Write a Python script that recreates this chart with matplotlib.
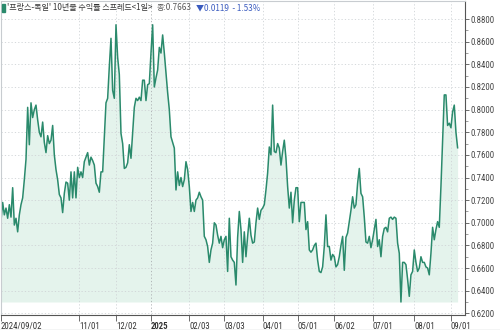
import matplotlib
matplotlib.use("Agg")
import matplotlib.pyplot as plt
from matplotlib import font_manager
from matplotlib.patches import Rectangle
from matplotlib.lines import Line2D

# daily spread values (trading days, 2024/09/02 -> 2025/09/0x)
spread = [
    0.702, 0.718, 0.707, 0.713, 0.704, 0.716, 0.705, 0.731, 0.698, 0.704,
    0.692, 0.707, 0.716, 0.722, 0.738, 0.756, 0.802, 0.769, 0.806, 0.793,
    0.800, 0.804, 0.791, 0.780, 0.776, 0.789, 0.771, 0.762, 0.777, 0.770,
    0.773, 0.786, 0.760, 0.747, 0.738, 0.725, 0.722, 0.709, 0.726, 0.736,
    0.735, 0.720, 0.745, 0.722, 0.745, 0.722, 0.749, 0.740, 0.745, 0.740,
    0.754, 0.758, 0.762, 0.751,
    0.758, 0.755, 0.751, 0.735, 0.732, 0.727, 0.745, 0.745, 0.776, 0.806,
    0.810, 0.838, 0.863, 0.817, 0.810, 0.875, 0.846, 0.831, 0.779, 0.770,
    0.748, 0.749, 0.753, 0.769, 0.757, 0.780, 0.802, 0.810, 0.808, 0.811,
    0.808, 0.826, 0.826, 0.808, 0.822, 0.823, 0.850, 0.875, 0.820, 0.828,
    0.835, 0.855, 0.850, 0.866, 0.850, 0.832, 0.815, 0.800, 0.776, 0.771,
    0.766, 0.729, 0.745, 0.733,
    0.740, 0.732, 0.738, 0.754, 0.747, 0.732, 0.710, 0.718, 0.710, 0.720,
    0.722, 0.727, 0.723, 0.720, 0.688, 0.685, 0.679, 0.665, 0.676, 0.682,
    0.700, 0.698, 0.689, 0.682, 0.688, 0.678, 0.685, 0.688, 0.657, 0.704,
    0.670, 0.667, 0.665, 0.645, 0.687, 0.710, 0.694, 0.665, 0.692, 0.670,
    0.688, 0.704, 0.689, 0.682, 0.683, 0.700, 0.713, 0.703, 0.711, 0.713,
    0.716, 0.729, 0.744, 0.767, 0.760, 0.804, 0.763,
    0.762, 0.770, 0.766, 0.751, 0.763, 0.773, 0.757, 0.732, 0.713, 0.727,
    0.700, 0.720, 0.731, 0.731, 0.701, 0.718, 0.718, 0.718, 0.694, 0.701,
    0.676, 0.674, 0.676, 0.680, 0.682, 0.667, 0.657, 0.656, 0.661, 0.679,
    0.707, 0.679, 0.679, 0.667, 0.672, 0.670, 0.661, 0.663, 0.670, 0.680,
    0.688, 0.658, 0.687, 0.691, 0.701, 0.711, 0.723, 0.713, 0.716, 0.735,
    0.748, 0.726, 0.723, 0.705, 0.683, 0.682, 0.688,
    0.678, 0.685, 0.694, 0.703, 0.679, 0.685, 0.670, 0.688, 0.695, 0.696,
    0.692, 0.704, 0.705, 0.703, 0.705, 0.704, 0.682, 0.673, 0.630, 0.665,
    0.665, 0.663, 0.650, 0.635, 0.654, 0.657, 0.676, 0.665, 0.657, 0.660,
    0.670, 0.665, 0.665, 0.661, 0.660, 0.654, 0.673, 0.696, 0.685, 0.694,
    0.701, 0.696, 0.732, 0.773, 0.813, 0.813, 0.786, 0.788, 0.784, 0.798,
    0.804, 0.780, 0.7663,
]

# date labels and the trading-day index they sit on
date_labels = ["2024/09/02", "11/01", "12/02", "2025", "02/03", "03/03",
               "04/01", "05/01", "06/02", "07/01", "08/01", "09/01"]
date_index = [0, 47, 69, 90, 113, 134, 157, 178, 200, 223, 248, 270]

y_ticks = [0.62 + 0.02 * k for k in range(14)]

title_main = "'프랑스-독일' 10년물 수익률 스프레드<1일>"
title_close = "종:0.7663"
title_change = "▼0.0119  - 1.53%"


def pick(*names):
    have = {f.name for f in font_manager.fontManager.ttflist}
    for n in names:
        if n in have:
            return n
    return "DejaVu Sans"


num_font = pick("Liberation Sans Narrow", "Roboto Condensed", "DejaVu Sans")
kr_font = ["Noto Sans CJK KR", "DejaVu Sans"]

line_col = "#2a8a6c"
fill_col = "#e4f3ec"
grid_col = "#cfd3d6"

fig = plt.figure(figsize=(5, 3.3), dpi=100)
ax = fig.add_axes([0.002, 15 / 330, 0.928, 314 / 330])

x = list(range(len(spread)))
base = min(spread)
ax.fill_between(x, spread, base, color=fill_col, lw=0)
ax.plot(x, spread, color=line_col, lw=1.1)

ax.set_xlim(0, 465 / 1.6667 * 0.998)
ax.set_ylim(0.6185, 0.896)

ax.yaxis.tick_right()
ax.set_yticks(y_ticks)
ax.set_yticklabels(["%.4f" % v for v in y_ticks], fontsize=6.3,
                   family=num_font, color="#444444")
ax.set_yticks([0.63 + 0.02 * k for k in range(13)], minor=True)
ax.tick_params(axis="y", which="major", length=3, width=0.6, pad=1,
               colors="#555555")
ax.tick_params(axis="y", which="minor", length=2, width=0.5, colors="#777777")
for lab in ax.get_yticklabels():
    lab.set_color("#444444")

ax.set_xticks(date_index)
ax.set_xticklabels(date_labels, fontsize=6.3, family=num_font,
                   color="#333333", ha="left")
ax.tick_params(axis="x", length=4, width=0.6, pad=1, colors="#555555")
for lab in ax.get_xticklabels():
    lab.set_color("#333333")
    if lab.get_text() == "2025":
        lab.set_fontweight("bold")

ax.grid(True, which="major", color=grid_col, lw=0.6, ls=(0, (1.5, 2.5)))
ax.get_xgridlines()[3].set_color("#a9adb0")

for side in ["left", "top"]:
    ax.spines[side].set_color("#c8ccd0")
    ax.spines[side].set_linewidth(0.8)
ax.spines["right"].set_color("#555555")
ax.spines["right"].set_linewidth(0.8)
ax.spines["bottom"].set_color("#555555")
ax.spines["bottom"].set_linewidth(0.8)

# title line, pieces chained one after another
fig.patches.append(Rectangle((2 / 500, 1 - 12 / 330), 2.5 / 500, 8 / 330,
                             transform=fig.transFigure, color=line_col))
ty = 1 - 7.5 / 330
t1 = fig.text(7 / 500, ty, title_main, fontsize=5.8, family=kr_font,
              color="#333333", va="center")
t2 = fig.text(0, 0, title_close, fontsize=5.8, family=kr_font,
              color="#555555", va="center")
t3 = fig.text(0, 0, title_change, fontsize=5.8, family=kr_font,
              color="#3a5bbf", va="center")
t2.remove()
t3.remove()
a2 = ax.annotate(title_close, xy=(1, 0.5), xycoords=t1, xytext=(3, 0),
                 textcoords="offset points", va="center", fontsize=5.8,
                 family=kr_font, color="#555555", annotation_clip=False)
a3 = ax.annotate(title_change, xy=(1, 0.5), xycoords=a2, xytext=(3, 0),
                 textcoords="offset points", va="center", fontsize=5.8,
                 family=kr_font, color="#3a5bbf", annotation_clip=False)

fig.lines.append(Line2D([0, 1], [0.5 / 330, 0.5 / 330], transform=fig.transFigure,
                        color="#c8ccd0", lw=1))

fig.savefig("out.png", dpi=100)
